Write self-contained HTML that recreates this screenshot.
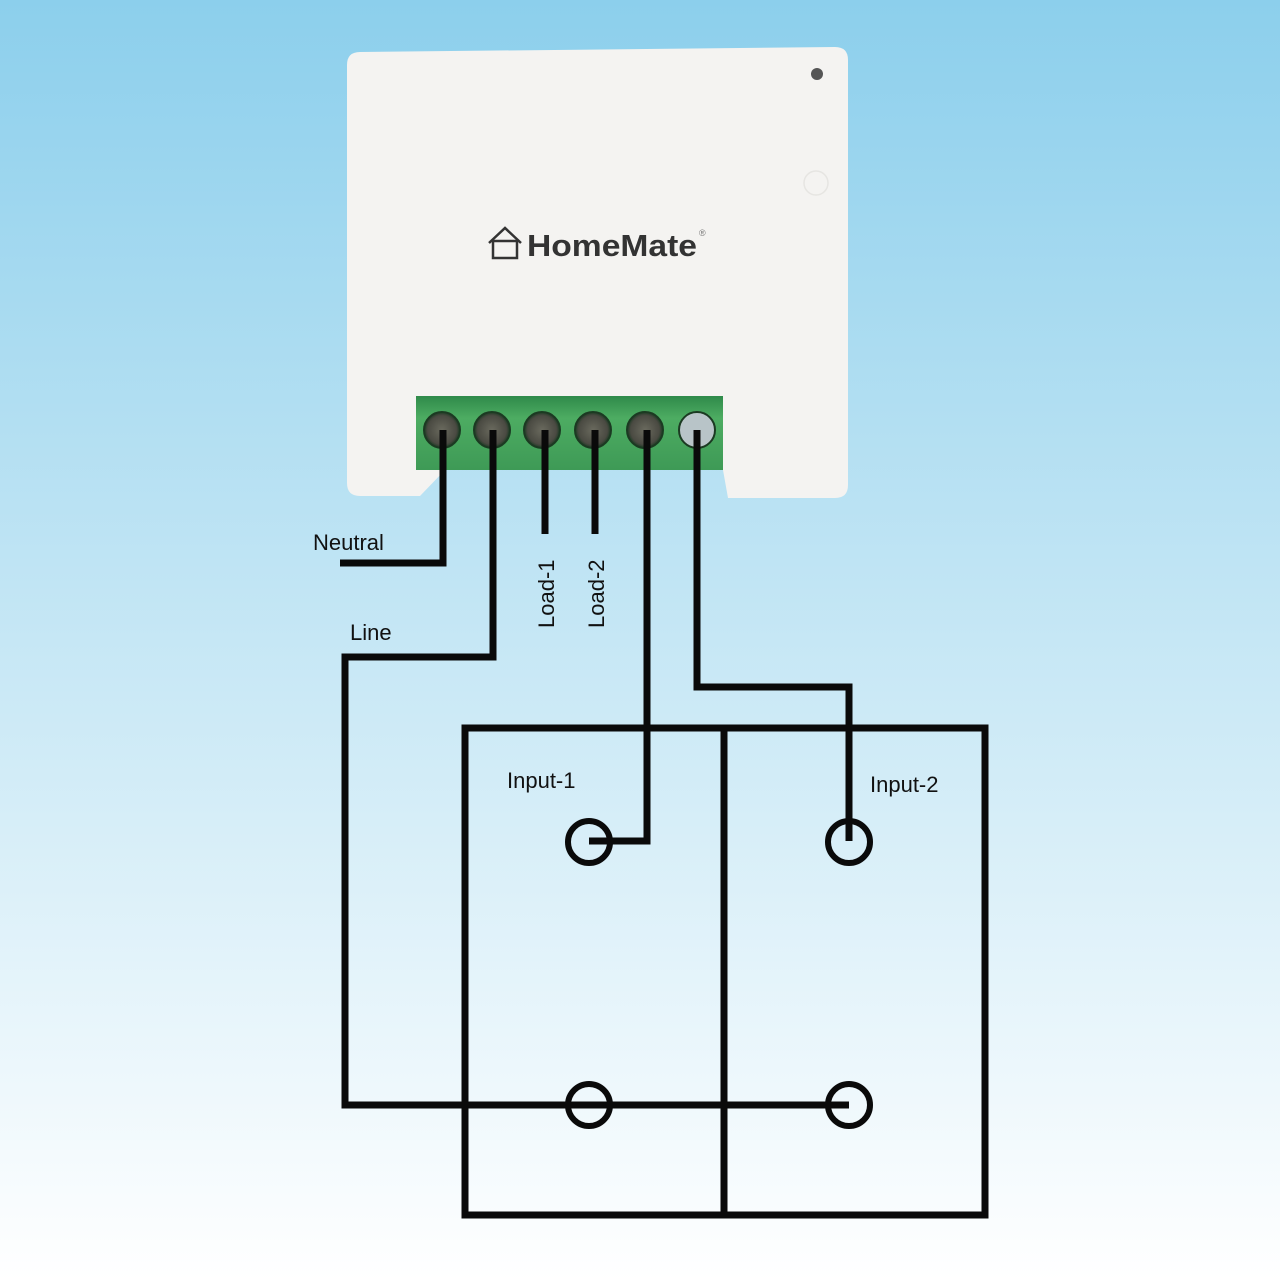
<!DOCTYPE html>
<html><head><style>
html,body{margin:0;padding:0;width:1280px;height:1280px;overflow:hidden}
</style></head><body>
<svg width="1280" height="1280" viewBox="0 0 1280 1280" xmlns="http://www.w3.org/2000/svg">
<defs>
<linearGradient id="bg" x1="0" y1="0" x2="0" y2="1">
<stop offset="0" stop-color="#8ccfec"/>
<stop offset="0.5" stop-color="#c6e7f5"/>
<stop offset="1" stop-color="#ffffff"/>
</linearGradient>
<linearGradient id="gr" x1="0" y1="0" x2="0" y2="1">
<stop offset="0" stop-color="#2f8a4a"/>
<stop offset="0.3" stop-color="#4dac62"/>
<stop offset="1" stop-color="#3e9a56"/>
</linearGradient>
<radialGradient id="sc" cx="0.5" cy="0.5" r="0.5">
<stop offset="0" stop-color="#6a6a5e"/>
<stop offset="0.8" stop-color="#4a4a42"/>
<stop offset="1" stop-color="#1e3a24"/>
</radialGradient>
</defs>
<rect width="1280" height="1280" fill="url(#bg)"/>
<path d="M360 52 L835 47 Q848 47 848 60 L848 485 Q848 498 835 498 L728 498 L723 470 L445 470 L420 496 L360 496 Q347 496 347 483 L347 65 Q347 52 360 52 Z" fill="#f4f3f1"/>
<circle cx="817" cy="74" r="6" fill="#555"/>
<circle cx="816" cy="183" r="12" fill="none" stroke="#e6e5e2" stroke-width="1.5"/>
<rect x="416" y="396" width="307" height="74" fill="url(#gr)"/>
<g stroke="#1b3a22" stroke-width="2">
<circle cx="442" cy="430" r="18" fill="url(#sc)"/>
<circle cx="492" cy="430" r="18" fill="url(#sc)"/>
<circle cx="542" cy="430" r="18" fill="url(#sc)"/>
<circle cx="593" cy="430" r="18" fill="url(#sc)"/>
<circle cx="645" cy="430" r="18" fill="url(#sc)"/>
<circle cx="697" cy="430" r="18" fill="#b8c4c8"/>
</g>
<g fill="none" stroke="#333" stroke-width="2.5">
<path d="M489 243 L505 228 L521 243"/>
<rect x="493" y="241" width="24" height="17"/>
</g>
<text x="527" y="256" font-family="Liberation Sans, sans-serif" font-size="31" font-weight="bold" fill="#333" textLength="170" lengthAdjust="spacingAndGlyphs">HomeMate</text>
<text x="699" y="236" font-family="Liberation Sans, sans-serif" font-size="9" fill="#777">®</text>
<g fill="none" stroke="#0a0a0a" stroke-width="7" stroke-linejoin="miter">
<polyline points="443,430 443,563 340,563"/>
<polyline points="493,430 493,657 345,657 345,1105 849,1105"/>
<line x1="545" y1="430" x2="545" y2="534"/>
<line x1="595" y1="430" x2="595" y2="534"/>
<polyline points="647,430 647,841 589,841"/>
<polyline points="697,430 697,687 849,687 849,841"/>
<rect x="465" y="728" width="520" height="487"/>
<line x1="724" y1="728" x2="724" y2="1215"/>
</g>
<g fill="none" stroke="#0a0a0a" stroke-width="6">
<circle cx="589" cy="842" r="21"/>
<circle cx="849" cy="842" r="21"/>
<circle cx="589" cy="1105" r="21"/>
<circle cx="849" cy="1105" r="21"/>
</g>
<g font-family="Liberation Sans, sans-serif" font-size="22" fill="#111">
<text x="313" y="550">Neutral</text>
<text x="350" y="640">Line</text>
<text x="507" y="788">Input-1</text>
<text x="870" y="792">Input-2</text>
<text transform="translate(554,628) rotate(-90)">Load-1</text>
<text transform="translate(604,628) rotate(-90)">Load-2</text>
</g>
</svg>
</body></html>
